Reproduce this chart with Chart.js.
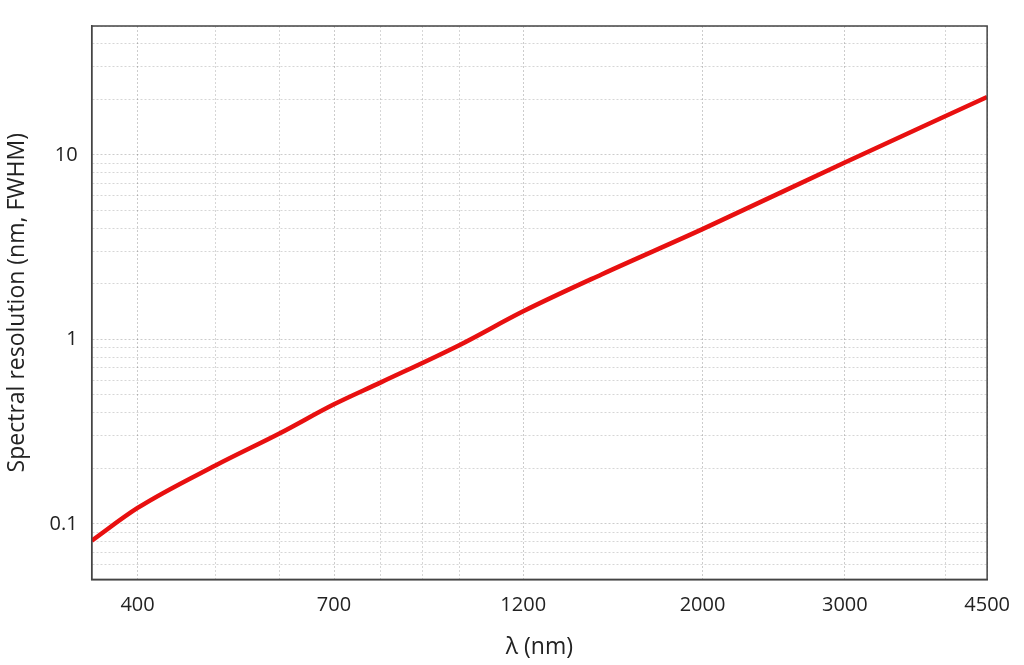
<!DOCTYPE html>
<html>
<head>
<meta charset="utf-8">
<script src="https://cdn.jsdelivr.net/npm/chart.js@4"></script>
<style>
  html, body { margin: 0; background: #fff; }
  #wrap { width: 1024px; height: 665px; }
</style>
</head>
<body>
<div id="wrap"><canvas id="chart"></canvas></div>
<script>
// valores (log-log)
const wavelengths = [351, 400, 500, 600, 700, 800, 1000, 1200, 1500, 2000, 3000, 4500];
const resolution = [0.081, 0.122, 0.208, 0.31, 0.445, 0.585, 0.93, 1.42, 2.25, 3.96, 9.1, 20.6];
const xTicks = [400, 500, 600, 700, 800, 900, 1000, 1200, 2000, 3000, 4000, 4500];
const xLabels = [400, 700, 1200, 2000, 3000, 4500];
const yTicks = [0.05, 0.06, 0.07, 0.08, 0.09, 0.1, 0.2, 0.3, 0.4, 0.5, 0.6, 0.7, 0.8, 0.9,
  1, 2, 3, 4, 5, 6, 7, 8, 9, 10, 20, 30, 40, 50];
const yLabels = [0.1, 1, 10];

const font = 'Open Sans, sans-serif';
const gridColor = (ctx) => ctx.tick && (xLabels.includes(ctx.tick.value) || yLabels.includes(ctx.tick.value))
  ? 'rgba(0,0,0,.2)' : 'rgba(0,0,0,.16)';

new Chart(document.getElementById('chart'), {
  type: 'line',
  data: {
    datasets: [{
      data: wavelengths.map((x, i) => ({ x, y: resolution[i] })),
      borderColor: '#e81010',
      borderWidth: 4.5,
      pointRadius: 0,
      cubicInterpolationMode: 'monotone',
    }],
  },
  options: {
    responsive: true,
    maintainAspectRatio: false,
    animation: false,
    layout: { padding: { top: -14, right: 28, left: 0, bottom: 0 } },
    plugins: { legend: { display: false }, tooltip: { enabled: false } },
    scales: {
      x: {
        type: 'logarithmic',
        min: 351,
        max: 4500,
        afterBuildTicks: (s) => { s.ticks = xTicks.map((v) => ({ value: v })); },
        ticks: {
          autoSkip: false, maxRotation: 0, color: '#222', padding: 14,
          font: { family: font, size: 20 },
          callback: (v) => xLabels.includes(v) ? String(v) : '',
        },
        grid: { color: gridColor, drawTicks: false },
        border: { color: '#444', width: 1.5, dash: [2, 2] },
        title: { display: true, text: 'λ (nm)', color: '#222', font: { family: font, size: 23 }, padding: { top: 2 } },
      },
      y: {
        type: 'logarithmic',
        min: 0.05,
        max: 50,
        afterBuildTicks: (s) => { s.ticks = yTicks.map((v) => ({ value: v })); },
        ticks: {
          autoSkip: false, color: '#222', padding: 14,
          font: { family: font, size: 20 },
          callback: (v) => yLabels.includes(v) ? String(v) : '',
        },
        grid: { color: gridColor, drawTicks: false },
        border: { color: '#444', width: 1.5, dash: [2, 2] },
        title: { display: true, text: 'Spectral resolution (nm, FWHM)', color: '#222', font: { family: font, size: 23 }, padding: { bottom: 4 } },
      },
    },
  },
  plugins: [{
    id: 'frame',
    afterDraw(chart) {
      const { ctx, chartArea: a } = chart;
      ctx.save();
      ctx.strokeStyle = '#444';
      ctx.lineWidth = 1.5;
      ctx.strokeRect(a.left, a.top, a.right - a.left, a.bottom - a.top);
      ctx.restore();
    },
  }],
});
</script>
</body>
</html>
